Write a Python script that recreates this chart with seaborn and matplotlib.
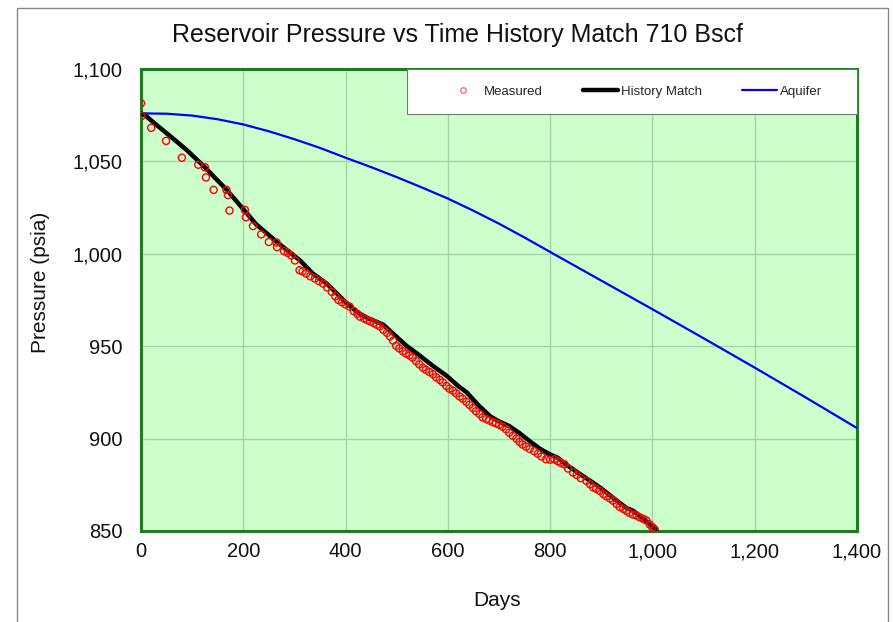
import matplotlib
matplotlib.use("Agg")
import matplotlib.pyplot as plt
import matplotlib.ticker as mticker
from matplotlib.lines import Line2D
from matplotlib.patches import Rectangle
import seaborn as sns
import pandas as pd

# ---- data ----
measured_days = [0, 1, 20, 49, 80, 112, 125, 127, 142, 167, 170, 173, 203, 205, 219, 235, 250,
                 265, 266, 280, 287, 294, 301, 310, 316, 323, 331, 340, 348, 356, 364, 373, 380,
                 386, 393, 400, 408, 416, 423, 428, 436, 442, 448, 455, 461, 467, 474, 481, 487,
                 493, 499, 505, 512, 518, 525, 531, 538, 544, 551, 557, 564, 571, 577, 584, 590,
                 597, 603, 610, 616, 623, 629, 636, 642, 649, 655, 662, 668, 675, 681, 688, 694,
                 700, 707, 714, 720, 727, 734, 740, 746, 753, 760, 769, 776, 783, 792, 800, 808,
                 815, 821, 828, 835, 845, 852, 860, 871, 878, 884, 890, 897, 904, 910, 917, 923,
                 930, 936, 943, 949, 955, 962, 969, 975, 982, 988, 995, 1000, 1004]
measured_psia = [1081.5, 1074.5, 1068.2, 1061.1, 1052.0, 1048.2, 1046.8, 1041.3, 1034.6, 1034.6,
                 1031.8, 1023.4, 1023.8, 1019.8, 1015.0, 1010.5, 1006.4, 1006.1, 1003.6, 1001.4,
                 1000.5, 999.1, 996.4, 991.1, 990.5, 989.3, 987.8, 986.6, 985.2, 983.9, 981.8,
                 979.4, 977.0, 975.0, 973.8, 972.6, 971.4, 969.0, 967.5, 966.0, 965.0, 964.2,
                 963.4, 962.5, 961.6, 960.7, 958.8, 957.2, 955.3, 953.0, 950.2, 948.8, 947.3,
                 946.0, 945.0, 943.8, 941.9, 940.2, 938.4, 937.2, 936.0, 934.8, 933.2, 931.8,
                 930.4, 928.5, 927.0, 925.9, 924.5, 922.8, 921.6, 919.9, 918.3, 916.5, 914.8,
                 913.3, 911.5, 910.6, 909.8, 908.9, 908.3, 907.5, 906.5, 905.0, 903.2, 901.5,
                 900.0, 898.2, 896.8, 895.6, 894.4, 893.2, 891.8, 890.3, 888.8, 888.6, 888.8,
                 887.8, 886.8, 886.1, 883.8, 881.6, 880.3, 878.6, 877.1, 875.3, 873.6, 872.8,
                 871.7, 870.0, 868.8, 867.6, 866.4, 864.6, 863.0, 862.0, 861.0, 859.8, 858.9,
                 858.4, 857.4, 856.6, 855.7, 853.5, 852.0, 851.0]

match_days = [0, 10, 30, 60, 90, 125, 145, 167, 185, 203, 225, 242, 266, 290, 311, 336, 363,
              383, 402, 425, 445, 454, 474, 500, 520, 540, 570, 598, 620, 637, 660, 683, 700,
              720, 740, 760, 780, 800, 815, 831, 860, 883, 900, 930, 949, 962, 985, 1008]
match_psia = [1076.0, 1074.5, 1069.8, 1063.0, 1056.0, 1046.8, 1041.0, 1034.8, 1029.0, 1023.2,
              1016.0, 1012.0, 1006.3, 1001.0, 996.4, 989.3, 983.9, 978.5, 973.2, 968.0, 965.0,
              964.0, 961.6, 955.0, 950.0, 946.0, 939.5, 933.9, 928.5, 925.0, 918.0, 912.0,
              909.3, 906.8, 903.0, 898.6, 894.5, 891.4, 889.6, 886.0, 880.5, 876.3, 873.0,
              866.5, 862.5, 861.0, 856.0, 850.5]

aquifer_days = [0, 50, 100, 150, 200, 250, 300, 350, 400, 450, 500, 550, 600, 650, 700, 750,
                800, 900, 1000, 1100, 1200, 1300, 1400]
aquifer_psia = [1076.0, 1075.8, 1074.8, 1072.8, 1070.0, 1066.3, 1062.0, 1057.3, 1052.0, 1046.9,
                1041.5, 1035.8, 1029.9, 1023.3, 1016.3, 1008.8, 1001.0, 985.5, 970.0, 954.3,
                938.4, 922.2, 905.7]

x_ticks = [0, 200, 400, 600, 800, 1000, 1200, 1400]
y_ticks = [850, 900, 950, 1000, 1050, 1100]

title = "Reservoir Pressure vs Time History Match 710 Bscf"

# ---- styling ----
sns.set_style("white")
plt.rcParams["font.family"] = ["Liberation Sans", "DejaVu Sans"]

W, H = 893, 622
fig = plt.figure(figsize=(W / 100, H / 100), dpi=100)
ax = fig.add_axes([141 / W, 1 - 531 / H, 716 / W, 462 / H])
ax.set_facecolor("#ccffcc")

df_meas = pd.DataFrame({"Days": measured_days, "Pressure": measured_psia})
df_match = pd.DataFrame({"Days": match_days, "Pressure": match_psia})
df_aq = pd.DataFrame({"Days": aquifer_days, "Pressure": aquifer_psia})

sns.lineplot(data=df_aq, x="Days", y="Pressure", ax=ax, color="#0000ff", lw=1.6,
             sort=False, zorder=3, legend=False)
sns.lineplot(data=df_match, x="Days", y="Pressure", ax=ax, color="black", lw=3.2,
             sort=False, zorder=4, legend=False)
sns.scatterplot(data=df_meas, x="Days", y="Pressure", ax=ax, marker="o", s=26,
                facecolors="none", edgecolor="#ff0000", linewidth=1.0, zorder=5,
                legend=False)

ax.set_xlim(0, 1400)
ax.set_ylim(850, 1100)
ax.set_xticks(x_ticks)
ax.set_yticks(y_ticks)
ax.xaxis.set_major_formatter(mticker.StrMethodFormatter("{x:,.0f}"))
ax.yaxis.set_major_formatter(mticker.StrMethodFormatter("{x:,.0f}"))
ax.tick_params(axis="both", length=0, labelsize=14.5, colors="#111111")
ax.tick_params(axis="y", pad=13.5)
ax.tick_params(axis="x", pad=8)
ax.grid(True, color="#a6d4a6", lw=1.0)
ax.set_axisbelow(True)
for s in ax.spines.values():
    s.set_visible(True)
    s.set_color("#1b7d1b")
    s.set_linewidth(2.2)

ax.set_xlabel("")
ax.set_ylabel("")
fig.text(497 / W, 1 - 600 / H, "Days", ha="center", va="center", fontsize=15, color="#111111")
fig.text(40 / W, 1 - 282 / H, "Pressure (psia)", ha="center", va="center", rotation=90,
         fontsize=15, color="#111111")

fig.text(457 / W, 1 - 35 / H, title, ha="center", va="center", fontsize=18, color="#111111")

# legend box
x0 = (407 - 141) / 716
y0 = (531 - 114) / 462
ax.add_patch(Rectangle((x0, y0), 1 - x0, 1 - y0, transform=ax.transAxes, facecolor="white",
                       edgecolor="#777777", lw=0.8, zorder=9, clip_on=False))
handles = [
    Line2D([], [], ls="none", marker="o", markersize=4, markerfacecolor="none",
           markeredgecolor="#ff6060", markeredgewidth=0.9),
    Line2D([], [], color="black", lw=3.2),
    Line2D([], [], color="#0000ff", lw=1.6),
]
labels = ["Measured", "History Match", "Aquifer"]
leg = ax.legend(handles, labels, loc="center left", ncol=3,
                bbox_to_anchor=((446 - 141) / 716, (531 - 92) / 462), fontsize=9.5,
                frameon=False, handlelength=2.65, handletextpad=0.25, borderaxespad=0,
                borderpad=0, columnspacing=3.0)
leg.set_zorder(10)

# outer frame
fig.add_artist(Line2D([17 / W, 17 / W, 888 / W, 888 / W], [0, 1 - 8 / H, 1 - 8 / H, 0],
                      transform=fig.transFigure, color="#888888", lw=1.0))

fig.savefig("out.png", dpi=100)
